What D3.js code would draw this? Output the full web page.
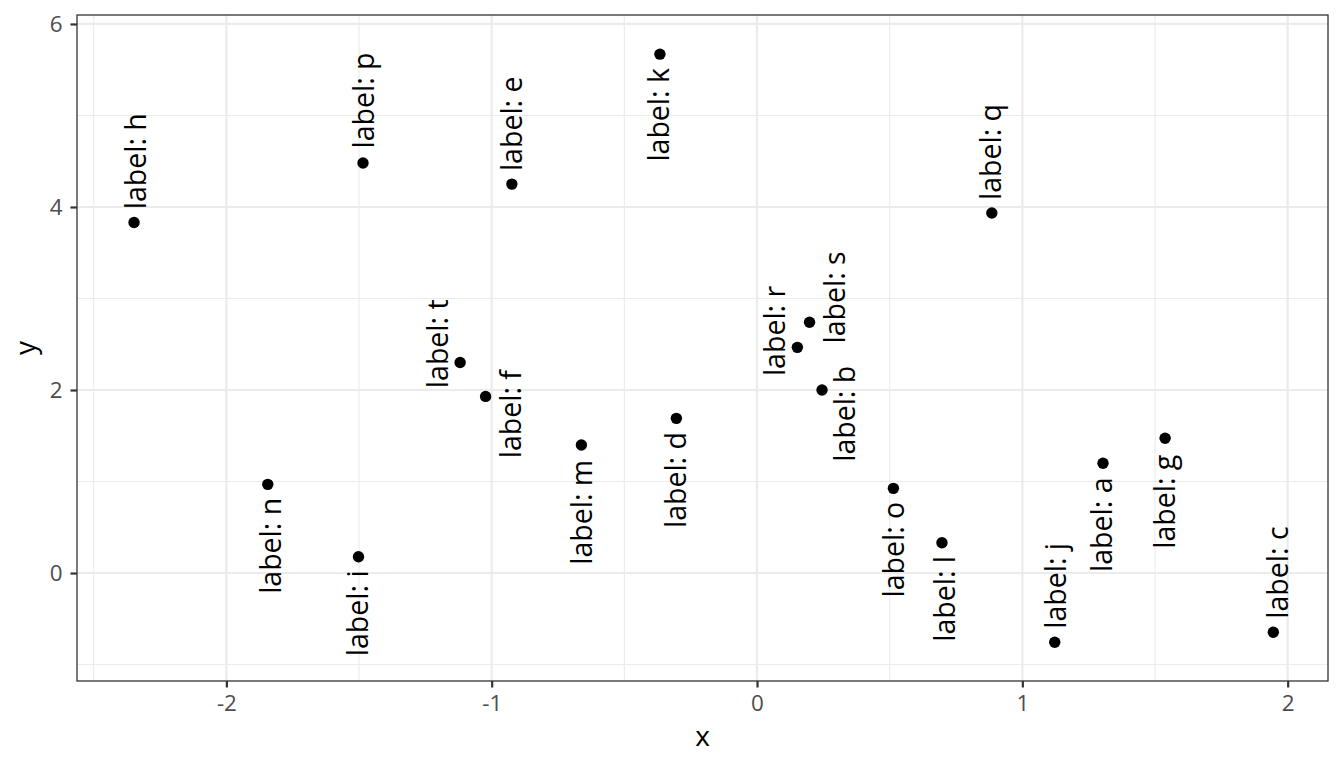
<!DOCTYPE html>
<html>
<head>
<meta charset="utf-8">
<script src="https://cdn.jsdelivr.net/npm/d3@7"></script>
<style>
  html, body { margin: 0; padding: 0; background: #ffffff; }
  svg { display: block; font-family: "Open Sans", "Noto Sans", sans-serif; }
</style>
</head>
<body>
<svg id="chart" width="1344" height="768"></svg>
<script>
// ---- data ----
const labels = ["a","b","c","d","e","f","g","h","i","j","k","l","m","n","o","p","q","r","s","t"];
const xValues = [1.304, 0.245, 1.946, -0.304, -0.924, -1.023, 1.538, -2.348, -1.502, 1.122,
                 -0.366, 0.697, -0.662, -1.844, 0.514, -1.485, 0.885, 0.152, 0.198, -1.119];
const yValues = [1.199, 2.000, -0.648, 1.690, 4.250, 1.930, 1.472, 3.830, 0.178, -0.757,
                 5.670, 0.331, 1.399, 0.969, 0.925, 4.480, 3.935, 2.466, 2.740, 2.300];
// repelled label centres (data units)
const labelX = [1.301, 0.333, 1.963, -0.306, -0.922, -0.929, 1.537, -2.342, -1.504, 1.126,
                -0.368, 0.707, -0.658, -1.832, 0.518, -1.480, 0.883, 0.067, 0.295, -1.204];
const labelY = [0.528, 1.740, 0.005, 1.016, 4.909, 1.736, 0.779, 4.500, -0.440, -0.140,
                5.007, -0.282, 0.664, 0.297, 0.255, 5.164, 4.601, 2.645, 3.012, 2.505];
const xTicks = [-2, -1, 0, 1, 2];
const xMinor = [-2.5, -1.5, -0.5, 0.5, 1.5];
const yTicks = [0, 2, 4, 6];
const yMinor = [-1, 1, 3, 5];
const xTitle = "x";
const yTitle = "y";

// ---- layout ----
const panel = { left: 77, right: 1328, top: 15, bottom: 681 };
const svg = d3.select("#chart");

const x = d3.scaleLinear().domain([-2.563, 2.152]).range([panel.left, panel.right]);
const y = d3.scaleLinear().domain([-1.180, 6.098]).range([panel.bottom, panel.top]);

const points = labels.map((l, i) => ({ label: l, x: xValues[i], y: yValues[i], lx: labelX[i], ly: labelY[i] }));

// panel background
svg.append("rect")
  .attr("x", panel.left).attr("y", panel.top)
  .attr("width", panel.right - panel.left).attr("height", panel.bottom - panel.top)
  .attr("fill", "#ffffff");

const grid = svg.append("g");
// minor grid
grid.selectAll(".xminor").data(xMinor).join("line")
  .attr("x1", d => x(d)).attr("x2", d => x(d))
  .attr("y1", panel.top).attr("y2", panel.bottom)
  .attr("stroke", "#EBEBEB").attr("stroke-width", 1.1);
grid.selectAll(".yminor").data(yMinor).join("line")
  .attr("y1", d => y(d)).attr("y2", d => y(d))
  .attr("x1", panel.left).attr("x2", panel.right)
  .attr("stroke", "#EBEBEB").attr("stroke-width", 1.1);
// major grid
grid.selectAll(".xmajor").data(xTicks).join("line")
  .attr("x1", d => x(d)).attr("x2", d => x(d))
  .attr("y1", panel.top).attr("y2", panel.bottom)
  .attr("stroke", "#EBEBEB").attr("stroke-width", 2.2);
grid.selectAll(".ymajor").data(yTicks).join("line")
  .attr("y1", d => y(d)).attr("y2", d => y(d))
  .attr("x1", panel.left).attr("x2", panel.right)
  .attr("stroke", "#EBEBEB").attr("stroke-width", 2.2);

// points
svg.append("g").selectAll("circle").data(points).join("circle")
  .attr("cx", d => x(d.x)).attr("cy", d => y(d.y))
  .attr("r", 5.7).attr("fill", "#000000");

// labels
svg.append("g").selectAll("text").data(points).join("text")
  .attr("transform", d => `translate(${x(d.lx)},${y(d.ly)}) rotate(-90)`)
  .attr("text-anchor", "middle")
  .attr("dy", "0.35em")
  .attr("font-size", 28.5)
  .attr("fill", "#000000")
  .text(d => "label: " + d.label);

// panel border
svg.append("rect")
  .attr("x", panel.left).attr("y", panel.top)
  .attr("width", panel.right - panel.left).attr("height", panel.bottom - panel.top)
  .attr("fill", "none").attr("stroke", "#333333").attr("stroke-width", 1.3);

// axes
const xAxis = d3.axisBottom(x).tickValues(xTicks).tickSize(6.5).tickPadding(8).tickFormat(d3.format("d"));
const gx = svg.append("g").attr("transform", `translate(0,${panel.bottom})`).call(xAxis);
gx.select(".domain").remove();
gx.selectAll(".tick line").attr("stroke", "#333333").attr("stroke-width", 2.2);
gx.selectAll(".tick text").attr("fill", "#4D4D4D").attr("font-size", 22.4)
  .attr("font-family", "'Open Sans', sans-serif").text(d => d < 0 ? "-" + Math.abs(d) : d);

const yAxis = d3.axisLeft(y).tickValues(yTicks).tickSize(6.5).tickPadding(8).tickFormat(d3.format("d"));
const gy = svg.append("g").attr("transform", `translate(${panel.left},0)`).call(yAxis);
gy.select(".domain").remove();
gy.selectAll(".tick line").attr("stroke", "#333333").attr("stroke-width", 2.2);
gy.selectAll(".tick text").attr("fill", "#4D4D4D").attr("font-size", 22.4)
  .attr("font-family", "'Open Sans', sans-serif");

// titles
svg.append("text")
  .attr("x", (panel.left + panel.right) / 2).attr("y", 745.5)
  .attr("text-anchor", "middle").attr("font-size", 28).attr("fill", "#000000")
  .text(xTitle);
svg.append("text")
  .attr("transform", `translate(35,${(panel.top + panel.bottom) / 2}) rotate(-90)`)
  .attr("text-anchor", "middle").attr("font-size", 28).attr("fill", "#000000")
  .text(yTitle);
</script>
</body>
</html>
